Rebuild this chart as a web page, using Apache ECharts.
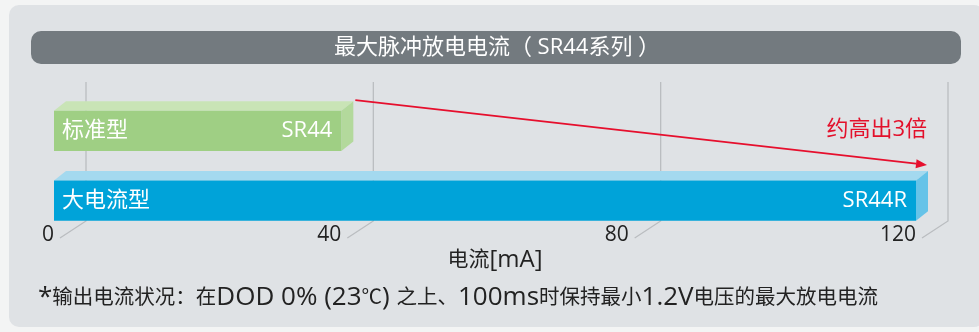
<!DOCTYPE html>
<html>
<head>
<meta charset="utf-8">
<script src="https://cdn.jsdelivr.net/npm/echarts@6/dist/echarts.min.js"></script>
<style>
	html, body { margin: 0; padding: 0; background: #f3f4f4; }
	#chart { width: 979px; height: 332px; }
</style>
</head>
<body>
<div id="chart"></div>
<script>
"use strict";
var fontName = '"Open Sans", "Noto Sans CJK SC", sans-serif';

var categories = ['标准型', '大电流型'];
var models = ['SR44', 'SR44R'];
var currents = [40, 120];
var tickValues = [0, 40, 80, 120];
var titleText = '最大脉冲放电电流（ SR44系列 ）';
var axisName = '电流[mA]';
var arrowText = '约高出3倍';
var noteText = '*输出电流状况：在DOD 0% (23℃) 之上、100ms时保持最小1.2V电压的最大放电电流';

/* bar colours: front, top, side */
var barColors = [
	['#9fcf84', '#c9e4b6', '#b3d99c'],
	['#00a3d9', '#a4d9ef', '#66c3e8']
];
var depthX = 12, depthY = 9.5;

// latin runs are set a bit larger than the CJK runs, like in the source artwork
function mixedText(str) {
	return str.replace(/[\x00-\x7F]+|[^\x00-\x7F]+/g, function(run) {
		return (/^[\x00-\x7F]/.test(run) ? '{l|' : '{c|') + run + '}';
	});
}

function renderBar(params, api) {
	var idx = api.value(1);
	var start = api.coord([0, idx]);
	var end = api.coord([api.value(0), idx]);
	var h = api.size([0, 1])[1] * 0.58;
	var top = start[1] - h / 2, bottom = start[1] + h / 2;
	var x0 = start[0], x1 = end[0];
	var c = barColors[idx];
	return {
		type : 'group',
		children : [ {
			type : 'polygon',
			shape : { points : [ [x0, top], [x0 + depthX, top - depthY], [x1 + depthX, top - depthY], [x1, top] ] },
			style : { fill : c[1] }
		}, {
			type : 'polygon',
			shape : { points : [ [x1, top], [x1 + depthX, top - depthY], [x1 + depthX, bottom - depthY], [x1, bottom] ] },
			style : { fill : c[2] }
		}, {
			type : 'rect',
			shape : { x : x0, y : top, width : x1 - x0, height : h },
			style : { fill : c[0] }
		}, {
			type : 'text',
			x : x0 + 8, y : start[1],
			style : { text : categories[idx], fill : '#fff', font : '22px ' + fontName, verticalAlign : 'middle' }
		}, {
			type : 'text',
			x : x1 - 9, y : start[1],
			style : { text : models[idx], fill : '#fff', font : '22px ' + fontName, align : 'right', verticalAlign : 'middle' }
		} ]
	};
}

function renderGrid(params, api) {
	var p = api.coord([api.value(0), 0]);
	var cs = params.coordSys;
	var x = p[0];
	var yTop = cs.y - 14;
	var yBase = cs.y + cs.height - 14.5;
	return {
		type : 'polyline',
		shape : { points : [ [x + 32, yTop], [x + 32, yBase], [x + 6, yBase + 17] ] },
		style : { stroke : '#babdc0', lineWidth : 1.3, fill : null }
	};
}

function renderArrow(params, api) {
	var h = api.size([0, 1])[1] * 0.58;
	var a = api.coord([currents[0], 0]);
	var b = api.coord([currents[1], 1]);
	var sx = a[0] + depthX + 2, sy = a[1] - h / 2 - depthY - 1;
	var ex = b[0] + depthX - 1, ey = b[1] - h / 2 - depthY - 6;
	var ang = Math.atan2(ey - sy, ex - sx);
	var len = 11, wid = 4.5;
	var bx = ex - len * Math.cos(ang), by = ey - len * Math.sin(ang);
	var nx = -Math.sin(ang) * wid, ny = Math.cos(ang) * wid;
	return {
		type : 'group',
		children : [ {
			type : 'line',
			shape : { x1 : sx, y1 : sy, x2 : bx, y2 : by },
			style : { stroke : '#e60f2d', lineWidth : 1.6 }
		}, {
			type : 'polygon',
			shape : { points : [ [ex, ey], [bx + nx, by + ny], [bx - nx, by - ny] ] },
			style : { fill : '#e60f2d' }
		}, {
			type : 'text',
			x : ex, y : ey - 35,
			style : { text : arrowText, fill : '#e3102b', font : '22px ' + fontName, align : 'right', verticalAlign : 'middle' }
		} ]
	};
}

var chart = echarts.init(document.getElementById('chart'));
chart.setOption({
	backgroundColor : '#f3f4f4',
	animation : false,
	textStyle : { fontFamily : fontName },
	graphic : [ {
		type : 'rect', z : -10,
		shape : { x : 9, y : 5, width : 975, height : 322, r : 10 },
		style : { fill : '#dfe2e5' }
	}, {
		type : 'rect', z : -9,
		shape : { x : 31, y : 31, width : 930, height : 33, r : 10 },
		style : { fill : '#737a7f' }
	}, {
		type : 'text', z : -8,
		x : 497, y : 48,
		style : { text : titleText, fill : '#fff', font : '22px ' + fontName, align : 'center', verticalAlign : 'middle' }
	}, {
		type : 'text',
		x : 495, y : 260,
		style : {
			text : mixedText(axisName), fill : '#222', align : 'center', verticalAlign : 'middle',
			rich : {
				c : { fontSize : 21, fontFamily : fontName, lineHeight : 28, verticalAlign : 'middle' },
				l : { fontSize : 24, fontFamily : fontName, lineHeight : 28, verticalAlign : 'middle' }
			}
		}
	}, {
		type : 'text',
		x : 38, y : 298,
		style : {
			text : mixedText(noteText), fill : '#222', verticalAlign : 'middle',
			rich : {
				c : { fontSize : 20.5, fontFamily : fontName, lineHeight : 28, verticalAlign : 'middle' },
				l : { fontSize : 26, fontFamily : fontName, lineHeight : 28, verticalAlign : 'middle' }
			}
		}
	} ],
	grid : {
		left : 54,
		right : 979 - 916,
		top : 96,
		height : 139.5
	},
	xAxis : {
		type : 'value',
		min : 0,
		max : 120,
		interval : 40,
		axisLine : { show : false },
		axisTick : { show : false },
		splitLine : { show : false },
		axisLabel : {
			margin : 0,
			align : 'right',
			verticalAlign : 'middle',
			color : '#222',
			fontSize : 21,
			fontFamily : fontName
		}
	},
	yAxis : {
		type : 'category',
		data : categories,
		inverse : true,
		show : false
	},
	series : [ {
		type : 'custom',
		z : 1,
		renderItem : renderGrid,
		data : tickValues.map(function(v) { return [v, 0]; })
	}, {
		type : 'custom',
		z : 2,
		renderItem : renderBar,
		data : currents.map(function(v, i) { return [v, i]; })
	}, {
		type : 'custom',
		z : 3,
		renderItem : renderArrow,
		data : [[0, 0]]
	} ]
});
</script>
</body>
</html>
